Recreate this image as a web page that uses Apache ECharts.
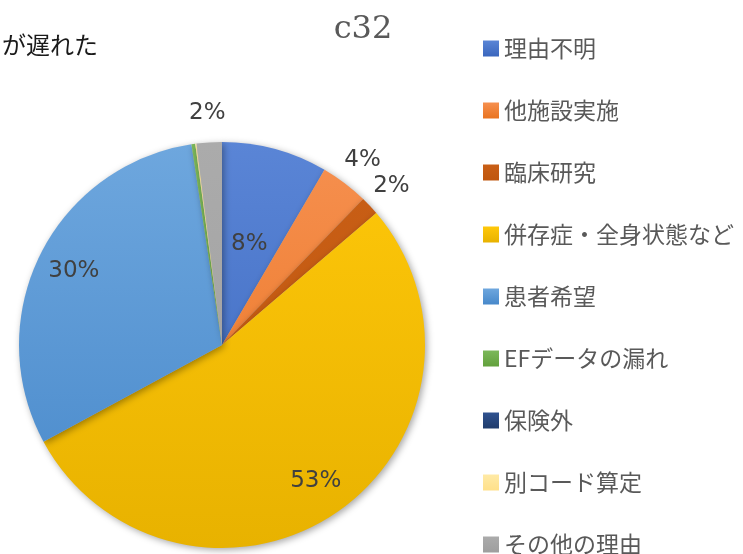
<!DOCTYPE html>
<html>
<head>
<meta charset="utf-8">
<script src="https://cdn.jsdelivr.net/npm/echarts@6/dist/echarts.min.js"></script>
<style>
  html, body { margin: 0; padding: 0; background: #fff; }
  #chart { width: 743px; height: 554px; }
</style>
</head>
<body>
<div id="chart"></div>
<script>
// data (share of cases, %)
const categories = ['理由不明', '他施設実施', '臨床研究', '併存症・全身状態など', '患者希望', 'EFデータの漏れ', '保険外', '別コード算定', 'その他の理由']
const values = [8.4, 3.8, 1.5, 53.2, 30.4, 0.3, 0, 0.1, 2.0]
const topColors = ['#5a85d6', '#f69050', '#c95f16', '#ffc80a', '#6ea7de', '#7cb85a', '#2f5290', '#ffeaa6', '#ababab']
const bottomColors = ['#3a66bd', '#e9731f', '#bf560e', '#e8b200', '#4788ca', '#62a13c', '#203c6c', '#ffe08a', '#9e9e9e']

// which labels sit where
const innerLabels = ['理由不明']
const midLabels = ['併存症・全身状態など', '患者希望']
const outerLabels = ['他施設実施', '臨床研究', 'その他の理由']

const center = [222, 345]
const R = 203

function pieGrad (i) {
  return {
    type: 'linear', x: 0, y: center[1] - R, x2: 0, y2: center[1] + R, global: true,
    colorStops: [{ offset: 0, color: topColors[i] }, { offset: 1, color: bottomColors[i] }]
  }
}
function iconGrad (i) {
  return {
    type: 'linear', x: 0, y: 0, x2: 0, y2: 1,
    colorStops: [{ offset: 0, color: topColors[i] }, { offset: 1, color: bottomColors[i] }]
  }
}

const labelStyle = {
  fontSize: 23,
  color: '#404040',
  fontFamily: "'DejaVu Sans', 'Noto Sans CJK JP', sans-serif"
}

function labelFor (names) {
  return Object.assign({
    show: true,
    position: 'inside',
    formatter: p => names.indexOf(p.name) >= 0 ? Math.round(p.percent) + '%' : ''
  }, labelStyle)
}

function overlay (radius, names) {
  return {
    type: 'pie',
    center: center,
    radius: radius,
    startAngle: 90,
    silent: true,
    emphasis: { disabled: true },
    itemStyle: { color: 'rgba(0,0,0,0)', borderWidth: 0 },
    label: labelFor(names),
    labelLine: { show: false },
    data: categories.map((c, i) => ({ name: c, value: values[i] }))
  }
}

const chart = echarts.init(document.getElementById('chart'))
const option = {
  animation: false,
  title: [
    {
      text: 'c32',
      left: 358,
      textAlign: 'center',
      top: 9,
      textStyle: { fontSize: 32, fontWeight: 'normal', color: '#595959', fontFamily: "'DejaVu Serif', 'Liberation Serif', serif" }
    },
    {
      text: 'が遅れた',
      left: -3,
      top: 28,
      textStyle: { fontSize: 24, fontWeight: 'normal', color: '#1a1a1a', fontFamily: "'Noto Sans CJK JP', sans-serif" }
    }
  ],
  legend: {
    orient: 'vertical',
    left: 478,
    top: 32,
    height: 700,
    itemWidth: 16,
    itemHeight: 16,
    itemGap: 39,
    icon: 'rect',
    selectedMode: false,
    textStyle: { fontSize: 23, color: '#595959', fontFamily: "'Noto Sans CJK JP', sans-serif" },
    data: categories.map((c, i) => ({ name: c, itemStyle: { color: iconGrad(i) } }))
  },
  series: [
    {
      type: 'pie',
      center: center,
      radius: R,
      startAngle: 90,
      emphasis: { disabled: true },
      itemStyle: { borderWidth: 0, shadowBlur: 7, shadowColor: 'rgba(0,0,0,0.35)', shadowOffsetX: 2, shadowOffsetY: 2 },
      label: labelFor(innerLabels),
      labelLine: { show: false },
      data: categories.map((c, i) => ({ name: c, value: values[i], itemStyle: { color: pieGrad(i) } }))
    },
    overlay([122, R], midLabels),
    overlay([R, 256], outerLabels)
  ]
}
chart.setOption(option)
</script>
</body>
</html>
